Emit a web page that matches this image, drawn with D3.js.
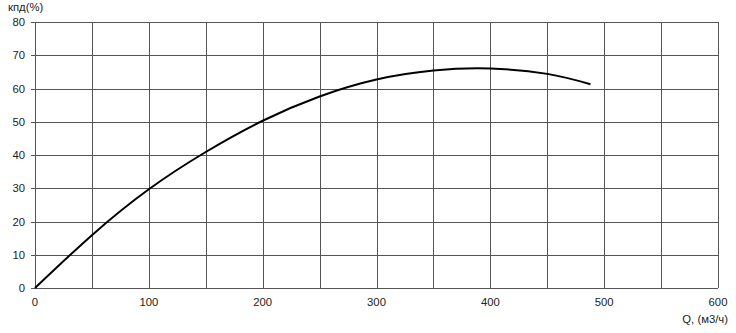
<!DOCTYPE html>
<html><head><meta charset="utf-8">
<script src="https://cdn.jsdelivr.net/npm/d3@7"></script>
<style>body{margin:0;background:#fff}svg{display:block}text{font-family:"Liberation Sans",Arial,sans-serif;font-size:11.3px;fill:#222}</style>
</head><body>
<script>
const flowQ = [0, 50, 100, 150, 200, 250, 300, 350, 400, 450, 488];
const efficiency = [0, 15.9, 29.7, 40.9, 50.3, 57.6, 62.7, 65.4, 66, 64.4, 61.3];
const xTicks = [0, 100, 200, 300, 400, 500, 600];
const xGrid = [0, 50, 100, 150, 200, 250, 300, 350, 400, 450, 500, 550, 600];
const yTicks = [0, 10, 20, 30, 40, 50, 60, 70, 80];

const W = 736, H = 333;
const svg = d3.select("body").append("svg").attr("width", W).attr("height", H);
const x = d3.scaleLinear().domain([0, 600]).range([35, 718]);
const y = d3.scaleLinear().domain([0, 80]).range([288, 22]);
const gridColor = "#555";

svg.append("g").selectAll("line").data(yTicks).join("line")
  .attr("x1", x(0) - 4).attr("x2", x(600))
  .attr("y1", d => Math.round(y(d)) + 0.5).attr("y2", d => Math.round(y(d)) + 0.5)
  .attr("stroke", gridColor).attr("stroke-width", 1);
svg.append("g").selectAll("line").data(xGrid).join("line")
  .attr("x1", d => Math.round(x(d)) + 0.5).attr("x2", d => Math.round(x(d)) + 0.5)
  .attr("y1", y(80)).attr("y2", y(0))
  .attr("stroke", gridColor).attr("stroke-width", 1);

svg.append("g").selectAll("text").data(yTicks).join("text")
  .attr("x", 25).attr("y", d => y(d) + 4).attr("text-anchor", "end").text(d => d);
svg.append("g").selectAll("text").data(xTicks).join("text")
  .attr("x", d => x(d)).attr("y", 306).attr("text-anchor", "middle").text(d => d);

svg.append("text").attr("x", 8).attr("y", 11).text("кпд(%)");
svg.append("text").attr("x", 728).attr("y", 323).attr("text-anchor", "end").text("Q, (м3/ч)");

const line = d3.line().x((d, i) => x(flowQ[i])).y(d => y(d)).curve(d3.curveNatural);
svg.append("path").datum(efficiency).attr("d", line)
  .attr("fill", "none").attr("stroke", "#000").attr("stroke-width", 2);
</script>
</body></html>
